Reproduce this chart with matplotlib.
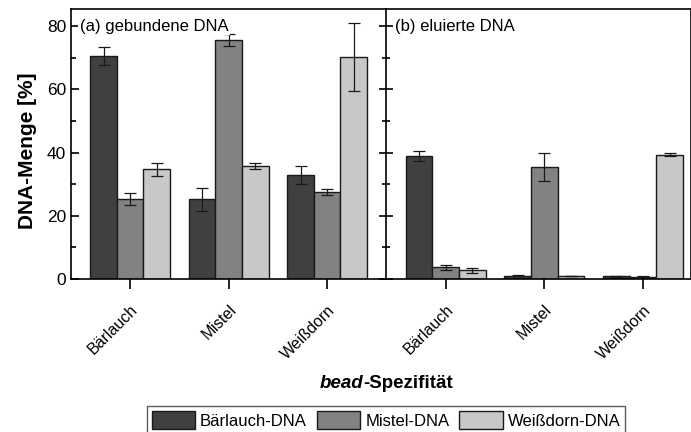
import matplotlib
matplotlib.use("Agg")
import matplotlib.pyplot as plt
from matplotlib.patches import Patch
import numpy as np

plt.rcParams['font.family'] = ['Liberation Sans', 'DejaVu Sans']

categories = ["Bärlauch", "Mistel", "Weißdorn"]
series_names = ["Bärlauch-DNA", "Mistel-DNA", "Weißdorn-DNA"]
colors = ["#404040", "#828282", "#c8c8c8"]

# (a) bound DNA: rows = DNA type, columns = bead specificity
bound_mean = [
    [70.7, 25.2, 32.8],   # Bärlauch-DNA
    [25.3, 75.6, 27.5],   # Mistel-DNA
    [34.7, 35.8, 70.2],   # Weißdorn-DNA
]
bound_err = [
    [2.8, 3.7, 2.8],
    [2.0, 1.9, 0.9],
    [2.1, 0.9, 10.8],
]

# (b) eluted DNA
eluted_mean = [
    [38.8, 0.9, 0.7],
    [3.6, 35.4, 0.6],
    [2.6, 0.9, 39.3],
]
eluted_err = [
    [1.6, 0.2, 0.2],
    [0.7, 4.3, 0.2],
    [0.8, 0.1, 0.5],
]

panel_titles = ["(a) gebundene DNA", "(b) eluierte DNA"]

W, H = 691, 432
fig = plt.figure(figsize=(W / 100, H / 100), dpi=100)

left, divider, right = 71 / W, 386.3 / W, 690.5 / W
bottom, top = 1 - 278.7 / H, 1 - 9 / H

ax1 = fig.add_axes([left, bottom, divider - left, top - bottom])
ax2 = fig.add_axes([divider, bottom, right - divider, top - bottom], sharey=ax1)

x = np.arange(1, len(categories) + 1)
bw = 0.27

for ax, means, errs, title in [
    (ax1, bound_mean, bound_err, panel_titles[0]),
    (ax2, eluted_mean, eluted_err, panel_titles[1]),
]:
    for i, (m, e) in enumerate(zip(means, errs)):
        ax.bar(x + (i - 1) * bw, m, width=bw, color=colors[i],
               edgecolor="#1a1a1a", linewidth=1.0,
               yerr=e, capsize=4,
               error_kw=dict(ecolor="#1a1a1a", elinewidth=0.9, capthick=0.9))
    ax.set_xticks(x)
    ax.set_xticklabels(categories, rotation=45, ha="right",
                       rotation_mode="anchor", fontsize=11.5)
    ax.tick_params(axis="x", direction="out", length=7, width=1.2, pad=10)
    ax.text(0.028, 0.935, title, transform=ax.transAxes, fontsize=12,
            va="center", ha="left",
            bbox=dict(facecolor="white", edgecolor="none", pad=1))
    for s in ax.spines.values():
        s.set_linewidth(1.2)

ax1.set_xlim(0.4, 3.6)
ax2.set_xlim(0.4, 3.48)
ax1.set_ylim(0, 85.5)
ax1.set_yticks([0, 20, 40, 60, 80])
ax1.set_yticks([10, 30, 50, 70], minor=True)
ax1.tick_params(axis="y", which="major", direction="in", length=6, width=1.2,
                labelsize=12.5, right=False)
ax1.tick_params(axis="y", which="minor", direction="in", length=3.5, width=1.2,
                right=False)
ax1.spines["right"].set_visible(False)
ax2.tick_params(axis="y", which="major", direction="inout", length=10, width=1.2,
                labelleft=False)
ax2.tick_params(axis="y", which="minor", direction="inout", length=6, width=1.2)
ax1.set_ylabel("DNA-Menge [%]", fontsize=15, fontweight="bold")
ax1.yaxis.set_label_coords(-0.108, 0.475)

# axis title spanning both panels: italic "bead" followed by "-Spezifität"
t1 = fig.text(320 / W, 1 - 383 / H, "bead", fontsize=13.5, fontweight="bold",
              style="italic", ha="left", va="center")
fig.canvas.draw()
ax1.annotate("-Spezifität", xy=(1, 0.5), xycoords=t1, va="center", ha="left",
             fontsize=13.5, fontweight="bold")

handles = [Patch(facecolor=c, edgecolor="#1a1a1a", linewidth=1.0) for c in colors]
fig.legend(handles, series_names, loc="center", ncol=3,
           bbox_to_anchor=(386 / W, 1 - 420 / H), fontsize=12,
           frameon=True, fancybox=False, edgecolor="#333333",
           handlelength=2.6, handleheight=1.25, columnspacing=0.6,
           handletextpad=0.3, borderpad=0.3, borderaxespad=0)

fig.savefig("out.png", dpi=100)
